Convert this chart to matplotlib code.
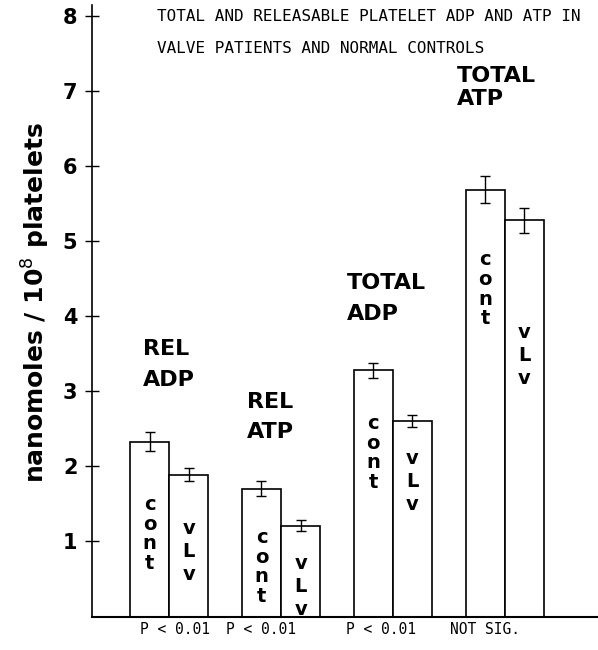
import matplotlib
matplotlib.use('Agg')
import matplotlib.pyplot as plt
import numpy as np

# ---- data ----
categories = ["REL\nADP", "REL\nATP", "TOTAL\nADP", "TOTAL\nATP"]
cont_values = [2.33, 1.70, 3.28, 5.69]
vlv_values = [1.89, 1.21, 2.61, 5.28]
cont_err = [0.13, 0.10, 0.10, 0.18]
vlv_err = [0.09, 0.07, 0.08, 0.17]
significance = ["P < 0.01", "P < 0.01", "P < 0.01", "NOT SIG."]
series_labels = ["c\no\nn\nt", "v\nL\nv"]
yticks = [1, 2, 3, 4, 5, 6, 7, 8]
title = "TOTAL AND RELEASABLE PLATELET ADP AND ATP IN\nVALVE PATIENTS AND NORMAL CONTROLS"
ylabel = r"nanomoles / 10$^8$ platelets"

# ---- layout (annotation positions in data units) ----
cat_label_x = [-0.235, 0.695, 1.589, 2.573]
cat_label_y = [3.36, 2.66, 4.24, 7.05]
cat_linespacing = [1.72, 1.58, 1.72, 1.22]
cont_label_y = [1.10, 0.66, 2.18, 4.36]
vlv_label_y = [0.87, 0.40, 1.80, 3.48]
sig_x = [0.05, 0.82, 1.898, 2.828]
sig_y = -0.167

fig = plt.figure(figsize=(5.98, 6.5), dpi=100)
ax = fig.add_axes([92/598, (650-616.5)/650, (597-92)/598, (616.5-5)/650])

x = np.arange(len(categories))
w = 0.35
ekw = dict(elinewidth=1.0, capthick=1.0, ecolor='black')
ax.bar(x - w/2, cont_values, w, color='white', edgecolor='black', linewidth=1.2,
       yerr=cont_err, capsize=3.5, error_kw=ekw, zorder=2)
ax.bar(x + w/2, vlv_values, w, color='white', edgecolor='black', linewidth=1.2,
       yerr=vlv_err, capsize=3.5, error_kw=ekw, zorder=2)

heavy = dict(family='DejaVu Sans', fontweight='bold', color='black')
for i in range(len(categories)):
    ax.text(cat_label_x[i], cat_label_y[i], categories[i], ha='left', va='center',
            multialignment='left', fontsize=16, linespacing=cat_linespacing[i], **heavy)
    ax.text(x[i] - w/2, cont_label_y[i], series_labels[0], ha='center', va='center',
            multialignment='center', fontsize=14, linespacing=1.05, zorder=3, **heavy)
    ax.text(x[i] + w/2, vlv_label_y[i], series_labels[1], ha='center', va='center',
            multialignment='center', fontsize=14, linespacing=1.28, zorder=3, **heavy)
    ax.text(sig_x[i], sig_y, significance[i], ha='center', va='center',
            fontsize=10.5, family='DejaVu Sans Mono', clip_on=False)

fig.text(157/598, 1 - 9/650, title, ha='left', va='top', fontsize=11.5,
         family='DejaVu Sans Mono', linespacing=2.45)

ax.set_xlim(-0.691, 3.826)
ax.set_ylim(0, 8.15)
ax.set_xticks([])
ax.set_yticks(yticks)
ax.set_yticklabels([str(t) for t in yticks])
ax.tick_params(axis='y', direction='inout', length=10, width=1.0, pad=5.5, labelsize=15)
for lbl in ax.get_yticklabels():
    lbl.set_fontweight('bold')
ax.spines['top'].set_visible(False)
ax.spines['right'].set_visible(False)
ax.spines['left'].set_linewidth(1.2)
ax.spines['bottom'].set_linewidth(1.5)

ax.set_ylabel(ylabel, fontsize=18, fontweight='bold')
ax.yaxis.set_label_coords(-0.08, 0.513)

fig.savefig('out.png', dpi=100)
